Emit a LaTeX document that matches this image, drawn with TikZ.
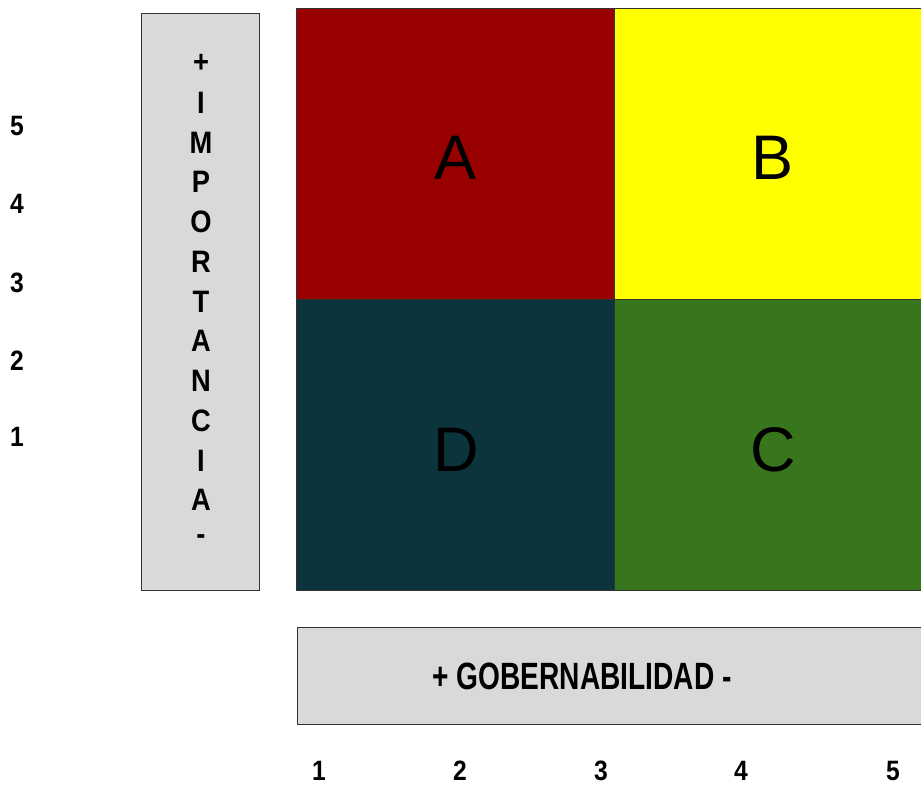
\documentclass[tikz,border=0pt]{standalone}
\usepackage{fontspec}
\setmainfont{Liberation Sans}
\newfontfamily\narrowbold[FakeStretch=0.74]{Liberation Sans Bold}
\newfontfamily\semibold[FakeStretch=0.88]{Liberation Sans Bold}
\definecolor{qred}{HTML}{990000}
\definecolor{qyellow}{HTML}{FFFF00}
\definecolor{qteal}{HTML}{0C343D}
\definecolor{qgreen}{HTML}{38761D}
\definecolor{boxgray}{HTML}{D9D9D9}
\definecolor{edgegray}{HTML}{333333}
\begin{document}
\begin{tikzpicture}[x=1pt,y=-1pt,
  quad/.style={draw=edgegray, line width=1.2pt, anchor=north west, inner sep=0pt,
    minimum height=291pt},
  qlet/.style={font=\fontsize{63}{63}\selectfont, text=black, inner sep=0pt},
  graybox/.style={draw=edgegray, line width=1.2pt, fill=boxgray, anchor=north west, inner sep=0pt},
  num/.style={font=\semibold\fontsize{28}{28}\selectfont, inner sep=0pt},
  vlet/.style={font=\semibold\fontsize{31}{31}\selectfont, inner sep=0pt}]
\clip (0,0) rectangle (921,786);
\fill[white] (0,0) rectangle (921,786);
% quadrants
\node[quad, fill=qred, minimum width=318pt] (A) at (296,8) {};
\node[quad, fill=qyellow, minimum width=330pt] (B) at (614,8) {};
\node[quad, fill=qteal, minimum width=318pt] (D) at (296,299) {};
\node[quad, fill=qgreen, minimum width=330pt] (C) at (614,299) {};
\node[qlet] (la) at (456,158) {A};
\node[qlet] (lb) at (773,158) {B};
\node[qlet] (ld) at (456,450) {D};
\node[qlet] (lc) at (773,450) {C};
% vertical box
\node[graybox, minimum width=118pt, minimum height=577pt] (vbox) at (141,13) {};
\foreach \t [count=\i from 0] in {+,I,M,P,O,R,T,A,N,C,I,A,-}
  \node[vlet] (v\i) at (201,{63+39.75*\i}) {\t};
% horizontal box
\node[graybox, minimum width=640pt, minimum height=97pt] (hbox) at (297,627) {};
\node[font=\narrowbold\fontsize{38}{38}\selectfont, inner sep=0pt] (htext) at (582,676) {+ GOBERNABILIDAD -};
% bottom numbers
\node[num] (b1) at (319,771) {1};
\node[num] (b2) at (460,771) {2};
\node[num] (b3) at (601,771) {3};
\node[num] (b4) at (741,771) {4};
\node[num] (b5) at (893,771) {5};
% left numbers
\node[num] (l5) at (17,126) {5};
\node[num] (l4) at (17,204) {4};
\node[num] (l3) at (17,283) {3};
\node[num] (l2) at (17,361) {2};
\node[num] (l1) at (17,437) {1};
\end{tikzpicture}
\end{document}
